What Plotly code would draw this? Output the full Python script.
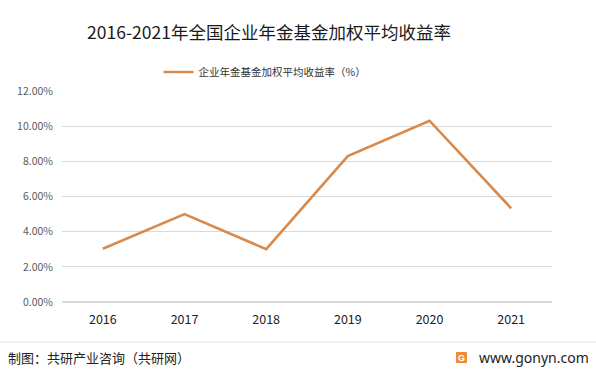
import plotly.graph_objects as go

years = ["2016", "2017", "2018", "2019", "2020", "2021"]
returns = [3.03, 5.00, 3.01, 8.30, 10.31, 5.33]
series_name = "企业年金基金加权平均收益率（%）"
title_text = "2016-2021年全国企业年金基金加权平均收益率"
source_text = "制图：共研产业咨询（共研网）"
site_text = "www.gonyn.com"

FONT = "Noto Sans CJK SC"
W, H = 596, 373
PL, PR, PT, PB = 62, 552, 91, 302
PW, PH = PR - PL, PB - PT


def px(x):
    return (x - PL) / PW


def py(y):
    return (PB - y) / PH


fig = go.Figure()
fig.add_trace(go.Scatter(
    x=years, y=returns, mode="lines", name=series_name,
    line=dict(color="#D98A4B", width=2.6),
))

fig.update_layout(
    width=W, height=H,
    margin=dict(l=PL, r=W - PR, t=PT, b=H - PB, autoexpand=False),
    paper_bgcolor="white", plot_bgcolor="white",
    font=dict(family=FONT, color="#595959"),
    title=dict(text=title_text, xref="container", x=269 / W, xanchor="center",
               yref="container", y=1 - 33 / H, yanchor="middle",
               font=dict(size=17.5, color="#1a1a1a", family=FONT)),
    showlegend=True,
    legend=dict(orientation="h", x=px(265), xanchor="center", y=py(72), yanchor="middle",
                font=dict(size=10.5, color="#333333", family=FONT),
                bgcolor="rgba(0,0,0,0)"),
    xaxis=dict(type="category", range=[-0.5, 5.5], showgrid=False, showline=False,
               zeroline=False, ticks="", tickfont=dict(size=12.5, color="#222222"),
               ticklabelstandoff=8),
    yaxis=dict(range=[0, 12], dtick=2, tickformat=".2f", ticksuffix="%",
               showgrid=True, gridcolor="#D9D9D9", gridwidth=1, zeroline=True,
               zerolinecolor="#D9D9D9", showline=False, ticks="",
               tickfont=dict(size=10.5, color="#595959"), ticklabelstandoff=8),
    shapes=[dict(type="line", xref="paper", yref="paper", x0=px(0), x1=px(596),
                 y0=py(342), y1=py(342), line=dict(color="#E6E6E6", width=1)),
            dict(type="rect", xref="paper", yref="paper",
                 x0=px(456), x1=px(467), y0=py(363), y1=py(352),
                 fillcolor="#F08A3A", line=dict(width=0))],
    annotations=[
        dict(text=source_text, xref="paper", yref="paper", x=px(6), xanchor="left",
             y=py(357), yanchor="middle", showarrow=False,
             font=dict(size=13, color="#222222", family=FONT)),
        dict(text="<b>G</b>", xref="paper", yref="paper", x=px(461.5), xanchor="center",
             y=py(357.5), yanchor="middle", showarrow=False,
             font=dict(size=9, color="white", family="Arial")),
        dict(text=site_text, xref="paper", yref="paper", x=px(591), xanchor="right",
             y=py(357), yanchor="middle", showarrow=False,
             font=dict(size=14, color="#222222", family="Noto Sans")),
    ],
)

fig.write_html("out.html", config={"displayModeBar": False},
               post_script="document.body.style.margin='0';")
